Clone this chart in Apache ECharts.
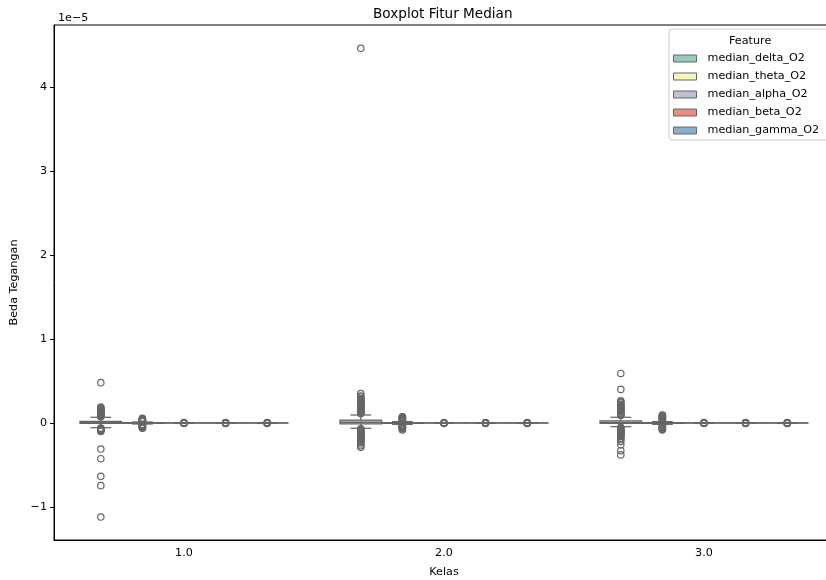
<!DOCTYPE html>
<html>
<head>
<meta charset="utf-8">
<script src="https://cdn.jsdelivr.net/npm/echarts@6/dist/echarts.min.js"></script>
<style>
  html, body { margin: 0; background: #fff; overflow: hidden; }
  /* the plot frame runs past the right edge of the window, as in the reference */
  #chart { width: 834px; height: 580px; }
</style>
</head>
<body>
<div id="chart"></div>
<script>
// values are in units of 1e-5
const classes = ['1.0', '2.0', '3.0']
const features = ['median_delta_O2', 'median_theta_O2', 'median_alpha_O2', 'median_beta_O2', 'median_gamma_O2']
const yTicks = [-1, 0, 1, 2, 3, 4]

// [min, q1, median, q3, max] per class
const deltaBox = [[-0.056, -0.005, 0.004, 0.02, 0.068], [-0.063, -0.01, 0.006, 0.035, 0.095], [-0.044, -0.005, 0.004, 0.025, 0.068]]
const thetaBox = [[-0.012, -0.004, 0, 0.004, 0.012], [-0.016, -0.005, 0, 0.005, 0.016], [-0.016, -0.005, 0, 0.005, 0.016]]
const alphaBox = [[-0.001, -0.0003, 0, 0.0003, 0.001], [-0.001, -0.0003, 0, 0.0003, 0.001], [-0.001, -0.0003, 0, 0.0003, 0.001]]
const betaBox = [[-0.001, -0.0003, 0, 0.0003, 0.001], [-0.001, -0.0003, 0, 0.0003, 0.001], [-0.001, -0.0003, 0, 0.0003, 0.001]]
const gammaBox = [[-0.001, -0.0003, 0, 0.0003, 0.001], [-0.001, -0.0003, 0, 0.0003, 0.001], [-0.001, -0.0003, 0, 0.0003, 0.001]]

// outliers per class
const deltaOut = [
  [0.48, 0.19, 0.18, 0.17, 0.16, 0.155, 0.145, 0.14, 0.13, 0.125, 0.12, 0.11, 0.105, 0.1, 0.095, 0.09, 0.085, 0.08, 0.075,
    -0.06, -0.065, -0.07, -0.075, -0.08, -0.085, -0.09, -0.1, -0.31, -0.425, -0.635, -0.746, -1.12],
  [4.46, 0.35, 0.32, 0.31, 0.29, 0.28, 0.27, 0.26, 0.25, 0.24, 0.23, 0.22, 0.21, 0.2, 0.19, 0.18, 0.17, 0.16, 0.15, 0.14, 0.13, 0.12, 0.11,
    -0.07, -0.08, -0.09, -0.1, -0.11, -0.12, -0.13, -0.14, -0.15, -0.16, -0.17, -0.18, -0.19, -0.2, -0.21, -0.22, -0.23, -0.25, -0.27, -0.29],
  [0.59, 0.4, 0.265, 0.25, 0.24, 0.22, 0.21, 0.2, 0.19, 0.18, 0.17, 0.16, 0.15, 0.14, 0.13, 0.12, 0.11, 0.1, 0.09,
    -0.05, -0.06, -0.07, -0.08, -0.09, -0.1, -0.11, -0.12, -0.13, -0.14, -0.15, -0.16, -0.18, -0.2, -0.22, -0.26, -0.33, -0.38],
]
const thetaOut = [
  [0.056, 0.05, 0.045, 0.04, 0.035, 0.03, 0.025, 0.02, 0.016, -0.016, -0.02, -0.025, -0.03, -0.035, -0.04, -0.045, -0.05, -0.056, -0.063],
  [0.075, 0.07, 0.065, 0.06, 0.05, 0.045, 0.04, 0.03, 0.025, 0.02, -0.02, -0.025, -0.03, -0.04, -0.045, -0.05, -0.06, -0.065, -0.07, -0.083],
  [0.095, 0.09, 0.08, 0.075, 0.07, 0.06, 0.055, 0.05, 0.04, 0.03, 0.02, -0.02, -0.03, -0.04, -0.05, -0.055, -0.06, -0.07, -0.075, -0.083],
]
const alphaOut = [[0.006, 0.003, -0.003, -0.006], [0.006, 0.003, -0.003, -0.006], [0.006, 0.003, -0.003, -0.006]]
const betaOut = [[0.006, 0.003, -0.003, -0.006], [0.006, 0.003, -0.003, -0.006], [0.006, 0.003, -0.003, -0.006]]
const gammaOut = [[0.006, 0.003, -0.003, -0.006], [0.006, 0.003, -0.003, -0.006], [0.006, 0.003, -0.003, -0.006]]

const boxList = [deltaBox, thetaBox, alphaBox, betaBox, gammaBox]
const outList = [deltaOut, thetaOut, alphaOut, betaOut, gammaOut]
const colors = ['#96cac1', '#f6f6bc', '#c1bed6', '#ea8e83', '#8bafc9']
const lineColor = '#666666'
const font = 'DejaVu Sans'
const fs = 11.2

const chart = echarts.init(document.getElementById('chart'))

// x centre of a hue slot inside a category band (seaborn dodge)
const slotInfo = (api, cat, hue) => {
  const band = api.size([1, 0])[0]
  const slot = (band * 0.8) / features.length
  const cx = api.coord([cat, 0])[0] + (hue - (features.length - 1) / 2) * slot
  return { cx, slot }
}

const makeBox = hue => (params, api) => {
  const cat = api.value(0)
  const { cx, slot } = slotInfo(api, cat, hue)
  const [yMin, yQ1, yMed, yQ3, yMax] = [1, 2, 3, 4, 5].map(i => api.coord([cat, api.value(i)])[1])
  const half = slot / 2
  const cap = slot / 4
  const line = (x1, y1, x2, y2) => ({
    type: 'line',
    shape: { x1, y1, x2, y2 },
    style: { stroke: lineColor, lineWidth: 1.25 },
  })
  return {
    type: 'group',
    children: [
      line(cx, yQ1, cx, yMin),
      line(cx, yQ3, cx, yMax),
      line(cx - cap, yMin, cx + cap, yMin),
      line(cx - cap, yMax, cx + cap, yMax),
      {
        type: 'rect',
        shape: { x: cx - half, y: yQ3, width: slot, height: yQ1 - yQ3 },
        style: { fill: colors[hue], stroke: lineColor, lineWidth: 1.25 },
      },
      line(cx - half, yMed, cx + half, yMed),
    ],
  }
}

const makeFlier = hue => (params, api) => {
  const cat = api.value(0)
  const { cx } = slotInfo(api, cat, hue)
  const cy = api.coord([cat, api.value(1)])[1]
  return {
    type: 'circle',
    shape: { cx, cy, r: 3.2 },
    style: { fill: 'none', stroke: lineColor, lineWidth: 1.2 },
  }
}

const series = []
features.forEach((name, hue) => {
  series.push({
    name,
    type: 'custom',
    renderItem: makeBox(hue),
    encode: { x: 0, y: [1, 2, 3, 4, 5] },
    data: boxList[hue].map((s, i) => [i, ...s]),
    z: 2,
  })
  series.push({
    type: 'custom',
    renderItem: makeFlier(hue),
    encode: { x: 0, y: 1 },
    data: outList[hue].flatMap((vals, i) => vals.map(v => [i, v])),
    z: 3,
  })
})

const fmtMinus = v => (v < 0 ? '\u2212' + Math.abs(v) : String(v))
const txt = size => ({ fontFamily: font, fontSize: size, fontWeight: 'normal', color: '#000' })

chart.setOption({
  animation: false,
  textStyle: { fontFamily: font },
  title: [
    { text: 'Boxplot Fitur Median', left: 368, top: 2, textStyle: txt(13.6) },
    { text: '1e\u22125', left: 53, top: 8, textStyle: txt(fs) },
    { text: 'Feature', left: 724, top: 31, textStyle: txt(fs) },
  ],
  legend: {
    orient: 'vertical',
    left: 669,
    top: 29,
    padding: [23, 10, 3, 4],
    itemWidth: 23,
    itemHeight: 7,
    itemGap: 5,
    backgroundColor: 'rgba(255,255,255,0.8)',
    borderColor: '#cccccc',
    borderWidth: 1,
    borderRadius: 3,
    selectedMode: false,
    textStyle: { fontFamily: font, fontSize: fs, color: '#000', lineHeight: 13, padding: [0, 0, 0, 6] },
    data: features.map((name, i) => ({
      name,
      icon: 'rect',
      itemStyle: { color: colors[i], borderColor: lineColor, borderWidth: 1 },
    })),
  },
  grid: {
    left: 54, right: 0, top: 25, bottom: 40,
    outerBoundsMode: 'none',
    show: true, borderColor: '#000', borderWidth: 1,
  },
  xAxis: {
    type: 'category',
    data: classes,
    name: 'Kelas',
    nameLocation: 'middle',
    nameGap: 27,
    nameTextStyle: txt(fs),
    axisLine: { onZero: false, lineStyle: { color: '#000', width: 1 } },
    axisTick: { alignWithLabel: true, length: 4, lineStyle: { color: '#000' } },
    axisLabel: { fontFamily: font, fontSize: fs, color: '#000', margin: 8 },
    splitLine: { show: false },
  },
  yAxis: {
    type: 'value',
    min: -1.393,
    max: 4.738,
    name: 'Beda Tegangan',
    nameLocation: 'middle',
    nameGap: 32,
    nameTextStyle: txt(fs),
    axisLine: { show: true, onZero: false, lineStyle: { color: '#000', width: 1 } },
    axisTick: { show: true, length: 4, customValues: yTicks, lineStyle: { color: '#000' } },
    axisLabel: { fontFamily: font, fontSize: fs, color: '#000', margin: 7, customValues: yTicks, formatter: fmtMinus },
    splitLine: { show: false },
  },
  series,
})
</script>
</body>
</html>
